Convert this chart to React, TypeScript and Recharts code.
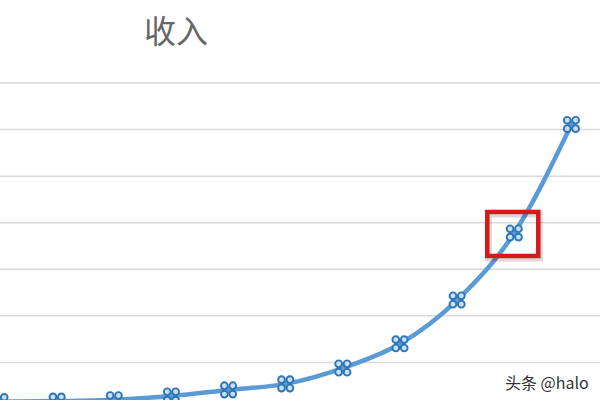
import React from 'react'
import { LineChart, Line, XAxis, YAxis, CartesianGrid, ReferenceDot } from 'recharts'

// period index and income values
const periods = [0, 1, 2, 3, 4, 5, 6, 7, 8, 9, 10]
const income = [0.16, 0.17, 0.2, 0.28, 0.41, 0.54, 0.88, 1.4, 2.34, 3.78, 6.11]
const yTicks = [0, 1, 2, 3, 4, 5, 6, 7]
const highlighted = 9

const data = periods.map((p, i) => ({ p, income: income[i] }))

function CloverDot(props: any) {
  const { cx, cy } = props
  if (cx == null || cy == null) return null
  const o = 4.2
  return (
    <g>
      <circle cx={cx} cy={cy} r={3.5} fill="#5b9bd5" />
      {[
        [-o, -o],
        [o, -o],
        [-o, o],
        [o, o],
      ].map(([dx, dy], i) => (
        <circle key={i} cx={cx + dx} cy={cy + dy} r={3.4} fill="#c9dff2" stroke="#2e75b6" strokeWidth={1.9} />
      ))}
    </g>
  )
}

function HighlightBox(props: any) {
  const { cx, cy } = props
  if (cx == null || cy == null) return null
  return (
    <g>
      <rect x={cx - 27} y={cy - 21} width={51} height={44} fill="none" stroke="#000" strokeOpacity={0.15} strokeWidth={7} transform="translate(1,2)" />
      <rect x={cx - 27} y={cy - 21} width={51} height={44} fill="none" stroke="#d7191c" strokeWidth={4.5} />
    </g>
  )
}

export default function App() {
  return (
    <div
      style={{
        position: 'absolute',
        left: 0,
        top: 0,
        width: 600,
        height: 400,
        overflow: 'hidden',
        background: '#fff',
      }}
    >
      <LineChart
        width={600}
        height={420}
        data={data}
        margin={{ top: 83, right: 0, left: 0, bottom: 11 }}
      >
        <CartesianGrid horizontal vertical={false} stroke="#d9d9d9" strokeWidth={1.5} />
        <XAxis dataKey="p" type="number" domain={[0, 10.5]} hide />
        <YAxis domain={[0, 7]} ticks={yTicks} hide />
        <Line
          type="monotone"
          dataKey="income"
          stroke="#5b9bd5"
          strokeWidth={4.5}
          dot={<CloverDot />}
          activeDot={false}
          isAnimationActive={false}
        />
        <ReferenceDot x={highlighted} y={income[highlighted]} shape={<HighlightBox />} />
      </LineChart>
      <div
        style={{
          position: 'absolute',
          left: 176,
          top: 10,
          transform: 'translateX(-50%)',
          fontFamily: '"Noto Sans CJK SC", sans-serif',
          fontSize: 32,
          color: '#666',
          lineHeight: '38px',
        }}
      >
        收入
      </div>
      <div
        style={{
          position: 'absolute',
          left: 505,
          top: 371,
          fontFamily: '"Noto Sans CJK SC", sans-serif',
          fontSize: 16,
          color: '#333',
          lineHeight: '22px',
          textShadow: '0 0 2px #fff',
        }}
      >
        头条 @halo
      </div>
    </div>
  )
}
